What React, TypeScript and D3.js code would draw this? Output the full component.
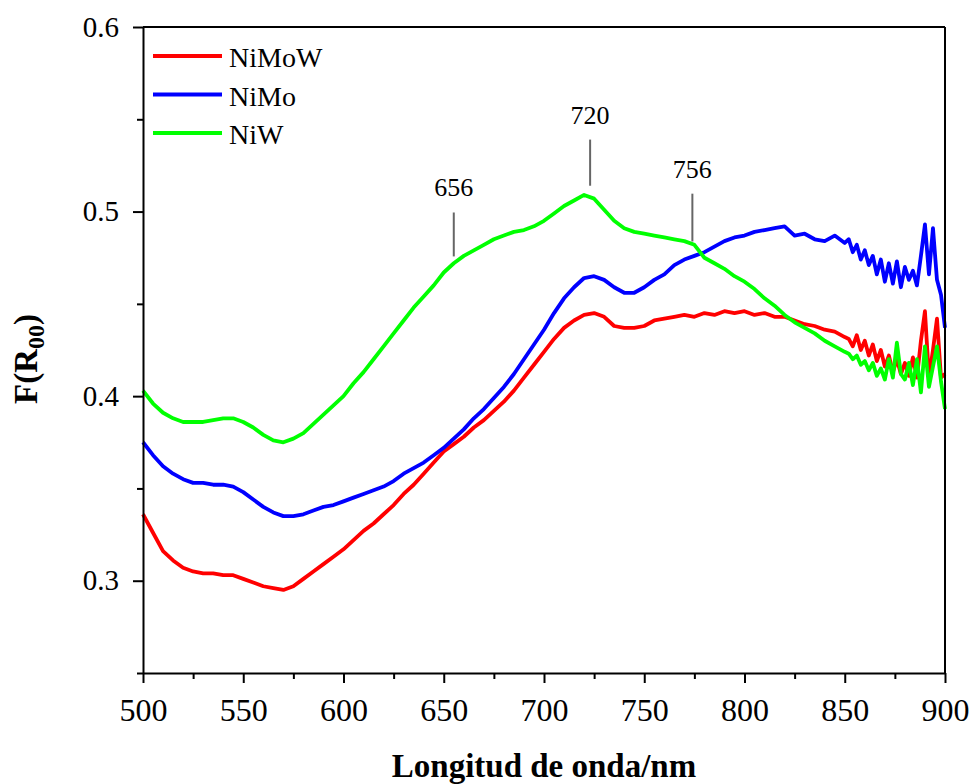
import React, { useEffect, useRef } from "react";
import * as d3 from "d3";

// wavelength grid: 5 nm steps to 850, then 2 nm steps in the noisy tail
const waveMain = d3.range(500, 851, 5);
const waveTail = d3.range(852, 901, 2);
const wavelengths = waveMain.concat(waveTail);

const niMoW = [
  0.336, 0.326, 0.316, 0.311, 0.307, 0.305, 0.304, 0.304, 0.303, 0.303,
  0.301, 0.299, 0.297, 0.296, 0.295, 0.297, 0.301, 0.305, 0.309, 0.313,
  0.317, 0.322, 0.327, 0.331, 0.336, 0.341, 0.347, 0.352, 0.358, 0.364,
  0.370, 0.374, 0.378, 0.383, 0.387, 0.392, 0.397, 0.403, 0.410, 0.417,
  0.424, 0.431, 0.437, 0.441, 0.444, 0.445, 0.443, 0.438, 0.437, 0.437,
  0.438, 0.441, 0.442, 0.443, 0.444, 0.443, 0.445, 0.444, 0.446, 0.445,
  0.446, 0.444, 0.445, 0.443, 0.443, 0.441, 0.439, 0.438, 0.436, 0.435,
  0.432,
  0.431, 0.427, 0.433, 0.425, 0.430, 0.422, 0.428, 0.419, 0.425, 0.416,
  0.422, 0.413, 0.420, 0.412, 0.418, 0.411, 0.421, 0.410, 0.430, 0.446,
  0.410, 0.425, 0.442, 0.410, 0.412,
];

const niMo = [
  0.375, 0.368, 0.362, 0.358, 0.355, 0.353, 0.353, 0.352, 0.352, 0.351,
  0.348, 0.344, 0.340, 0.337, 0.335, 0.335, 0.336, 0.338, 0.340, 0.341,
  0.343, 0.345, 0.347, 0.349, 0.351, 0.354, 0.358, 0.361, 0.364, 0.368,
  0.372, 0.377, 0.382, 0.388, 0.393, 0.399, 0.405, 0.412, 0.420, 0.428,
  0.436, 0.445, 0.453, 0.459, 0.464, 0.465, 0.463, 0.459, 0.456, 0.456,
  0.459, 0.463, 0.466, 0.471, 0.474, 0.476, 0.478, 0.481, 0.484, 0.486,
  0.487, 0.489, 0.490, 0.491, 0.492, 0.487, 0.488, 0.485, 0.484, 0.487,
  0.483,
  0.485, 0.478, 0.482, 0.474, 0.479, 0.471, 0.476, 0.466, 0.474, 0.462,
  0.472, 0.461, 0.473, 0.459, 0.470, 0.463, 0.468, 0.460, 0.476, 0.493,
  0.466, 0.491, 0.463, 0.455, 0.437,
];

const niW = [
  0.403, 0.396, 0.391, 0.388, 0.386, 0.386, 0.386, 0.387, 0.388, 0.388,
  0.386, 0.383, 0.379, 0.376, 0.375, 0.377, 0.380, 0.385, 0.390, 0.395,
  0.400, 0.407, 0.413, 0.420, 0.427, 0.434, 0.441, 0.448, 0.454, 0.460,
  0.467, 0.472, 0.476, 0.479, 0.482, 0.485, 0.487, 0.489, 0.490, 0.492,
  0.495, 0.499, 0.503, 0.506, 0.509, 0.507, 0.501, 0.495, 0.491, 0.489,
  0.488, 0.487, 0.486, 0.485, 0.484, 0.482, 0.475, 0.472, 0.469, 0.465,
  0.462, 0.458, 0.453, 0.449, 0.444, 0.440, 0.437, 0.434, 0.430, 0.427,
  0.424,
  0.423, 0.420, 0.422, 0.417, 0.419, 0.414, 0.418, 0.411, 0.415, 0.409,
  0.420, 0.410, 0.429, 0.412, 0.409, 0.418, 0.406, 0.420, 0.402, 0.427,
  0.405, 0.416, 0.427, 0.408, 0.393,
];

const seriesNames = ["NiMoW", "NiMo", "NiW"];
const seriesColors = ["#ff0000", "#0000ff", "#00ff00"];

const xTicks = [500, 550, 600, 650, 700, 750, 800, 850, 900];
const xMinor = [525, 575, 625, 675, 725, 775, 825, 875];
const yTicks = [0.3, 0.4, 0.5, 0.6];
const yMinor = [0.25, 0.35, 0.45, 0.55];

// peak markers: label, wavelength, line bottom / top value
const peakLabels = ["656", "720", "756"];
const peakX = [655, 723, 774];
const peakLow = [0.4757, 0.514, 0.4838];
const peakHigh = [0.4995, 0.539, 0.5097];

export default function App() {
  const ref = useRef<SVGSVGElement>(null);

  useEffect(() => {
    const svg = d3.select(ref.current);
    svg.selectAll("*").remove();

    const margin = { top: 27, right: 27, bottom: 111, left: 143 };
    const width = 972 - margin.left - margin.right;
    const height = 784 - margin.top - margin.bottom;
    const font = "Times New Roman, Liberation Serif, serif";

    const g = svg.append("g").attr("transform", "translate(" + margin.left + "," + margin.top + ")");

    const x = d3.scaleLinear().domain([500, 900]).range([0, width]);
    const y = d3.scaleLinear().domain([0.25, 0.6]).range([height, 0]);

    const data = [niMoW, niMo, niW];
    const line = d3.line<number>()
      .x((d, i) => x(wavelengths[i]))
      .y((d) => y(d));

    data.forEach((vals, k) => {
      g.append("path")
        .datum(vals)
        .attr("fill", "none")
        .attr("stroke", seriesColors[k])
        .attr("stroke-width", 3.8)
        .attr("stroke-linejoin", "round")
        .attr("d", line);
    });

    // box
    g.append("line").attr("x1", 0).attr("x2", width).attr("y1", 0).attr("y2", 0)
      .attr("stroke", "#000").attr("stroke-width", 2);
    g.append("line").attr("x1", width).attr("x2", width).attr("y1", 0).attr("y2", height)
      .attr("stroke", "#000").attr("stroke-width", 2);

    const xAxis = g.append("g")
      .attr("transform", "translate(0," + height + ")")
      .call(d3.axisBottom(x).tickValues(xTicks).tickSize(10).tickSizeOuter(0).tickPadding(15).tickFormat(d3.format("d")));
    g.append("g")
      .attr("transform", "translate(0," + height + ")")
      .call(d3.axisBottom(x).tickValues(xMinor).tickSize(6).tickFormat(() => ""))
      .call((s) => s.select(".domain").remove());

    const yAxis = g.append("g")
      .call(d3.axisLeft(y).tickValues(yTicks).tickSize(10).tickSizeOuter(0).tickPadding(14).tickFormat(d3.format(".1f")));
    g.append("g")
      .call(d3.axisLeft(y).tickValues(yMinor).tickSize(6).tickFormat(() => ""))
      .call((s) => s.select(".domain").remove());

    [xAxis, yAxis].forEach((a) => {
      a.attr("font-family", font);
      a.selectAll("path, line").attr("stroke", "#000").attr("stroke-width", 2);
      a.selectAll("text").attr("fill", "#000");
    });
    xAxis.attr("font-size", 32);
    yAxis.attr("font-size", 29);
    g.selectAll(".tick line").attr("stroke", "#000").attr("stroke-width", 2);

    // peak annotations
    peakLabels.forEach((lab, i) => {
      g.append("line")
        .attr("x1", x(peakX[i])).attr("x2", x(peakX[i]))
        .attr("y1", y(peakLow[i])).attr("y2", y(peakHigh[i]))
        .attr("stroke", "#666").attr("stroke-width", 2);
      g.append("text")
        .attr("x", x(peakX[i]))
        .attr("y", y(peakHigh[i]) - 16)
        .attr("text-anchor", "middle")
        .attr("font-family", font)
        .attr("font-size", 26)
        .text(lab);
    });

    // legend
    const legend = g.append("g")
      .attr("font-family", font)
      .attr("font-size", 28)
      .selectAll("g")
      .data(seriesNames)
      .enter().append("g")
      .attr("transform", (d, i) => "translate(10," + (29 + i * 38.5) + ")");
    legend.append("line")
      .attr("x1", 0).attr("x2", 69)
      .attr("stroke", (d, i) => seriesColors[i])
      .attr("stroke-width", 4);
    legend.append("text")
      .attr("x", 76)
      .attr("y", 11)
      .text((d) => d);

    // axis titles
    svg.append("text")
      .attr("x", margin.left + width / 2)
      .attr("y", 777)
      .attr("text-anchor", "middle")
      .attr("font-family", font)
      .attr("font-weight", "bold")
      .attr("font-size", 33)
      .text("Longitud de onda/nm");

    const yt = svg.append("text")
      .attr("transform", "translate(37,359) rotate(-90)")
      .attr("text-anchor", "middle")
      .attr("font-family", font)
      .attr("font-weight", "bold")
      .attr("font-size", 33);
    yt.append("tspan").text("F(R");
    yt.append("tspan").attr("font-size", 24).attr("dy", 7).text("00");
    yt.append("tspan").attr("dy", -7).text(")");
  }, []);

  return (
    <svg ref={ref} width={972} height={784}
      style={{ position: "absolute", left: 0, top: 0, background: "#fff" }} />
  );
}
